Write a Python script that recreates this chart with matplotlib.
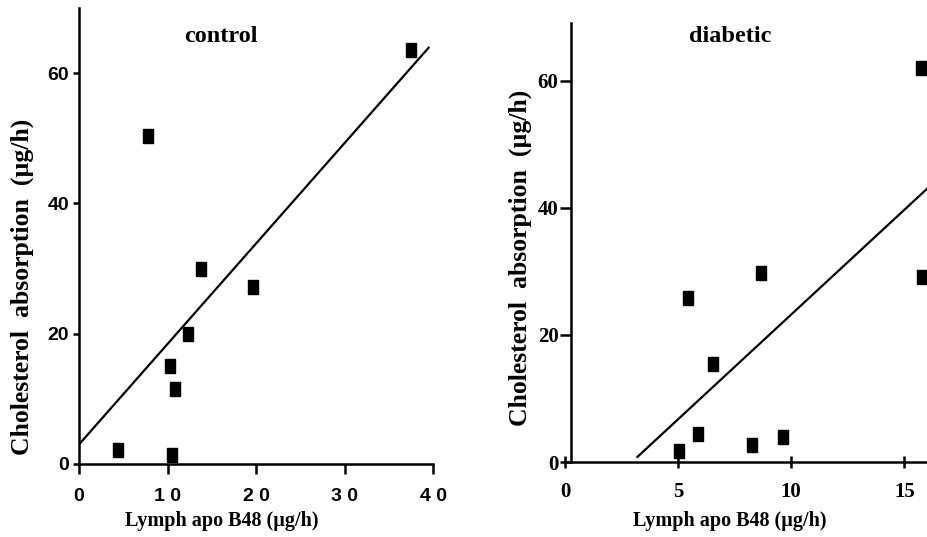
import matplotlib
matplotlib.use("Agg")
import matplotlib.pyplot as plt

# control group
ctrl_x = [4.45, 7.8, 10.3, 10.5, 10.9, 12.3, 13.8, 19.7, 37.5]
ctrl_y = [2.1, 50.3, 15.0, 1.4, 11.5, 19.9, 30.0, 27.1, 63.6]
ctrl_fit_x = [0, 39.5]
ctrl_fit_y = [3.0, 63.9]

# diabetic group
diab_x = [5.04, 5.44, 5.88, 6.55, 8.27, 8.67, 9.65, 15.75, 15.8]
diab_y = [1.7, 25.8, 4.4, 15.4, 2.7, 29.8, 3.9, 62.0, 29.1]
diab_fit_x = [3.2, 16.0]
diab_fit_y = [0.8, 43.0]

ctrl_xticks = [0, 10, 20, 30, 40]
ctrl_xlabels = ["0", "1 0", "2 0", "3 0", "4 0"]
diab_xticks = [0, 5, 10, 15]
yticks = [0, 20, 40, 60]

serif = "Liberation Serif"
sans = "Liberation Sans"

# tall rectangle marker
box = [(-0.37, -0.5), (0.37, -0.5), (0.37, 0.5), (-0.37, 0.5), (-0.37, -0.5)]

fig = plt.figure(figsize=(9.28, 5.37), dpi=100)

W, H = 928, 537


def place(x0, x1, ytop, ybot):
    return [x0 / W, 1 - ybot / H, (x1 - x0) / W, (ybot - ytop) / H]


ax1 = fig.add_axes(place(79, 433, 8, 464))
ax2 = fig.add_axes(place(565, 927, 23, 462))

for ax in (ax1, ax2):
    for s in ("top", "right"):
        ax.spines[s].set_visible(False)
    for s in ("left", "bottom"):
        ax.spines[s].set_linewidth(1.8)

# left panel
ax1.plot(ctrl_fit_x, ctrl_fit_y, color="black", lw=1.6)
ax1.plot(ctrl_x, ctrl_y, linestyle="none", marker=box, markersize=10,
         color="black", clip_on=False)
ax1.set_xlim(0, 40)
ax1.set_ylim(0, 70)
ax1.set_xticks(ctrl_xticks)
ax1.set_xticklabels(ctrl_xlabels)
ax1.set_yticks(yticks)
ax1.tick_params(axis="x", direction="out", length=7, width=1.8, pad=10)
ax1.tick_params(axis="y", direction="out", length=4, width=1.8, pad=3)
for lab in ax1.get_xticklabels() + ax1.get_yticklabels():
    lab.set_fontfamily(sans)
    lab.set_fontweight("bold")
    lab.set_fontsize(14)

# right panel
ax2.plot(diab_fit_x, diab_fit_y, color="black", lw=1.6)
ax2.plot(diab_x, diab_y, linestyle="none", marker=box, markersize=10,
         color="black", clip_on=False)
ax2.set_xlim(0, 16)
ax2.set_ylim(0, 69.1)
ax2.spines["left"].set_position(("data", 0.27))
ax2.set_xticks(diab_xticks)
ax2.set_yticks(yticks)
ax2.tick_params(axis="x", direction="inout", length=9, width=1.8, pad=10)
ax2.tick_params(axis="y", direction="out", length=8, width=1.8, pad=1)
for lab in ax2.get_xticklabels() + ax2.get_yticklabels():
    lab.set_fontfamily(serif)
    lab.set_fontweight("bold")
    lab.set_fontsize(15)

ylab = "Cholesterol  absorption  (\u00b5g/h)"
xlab = "Lymph apo B48 (\u00b5g/h)"
tk = dict(fontfamily=serif, fontweight="bold", ha="center", va="center")

fig.text(22 / W, 1 - 287 / H, ylab, rotation=90, fontsize=18.5, **tk)
fig.text(520 / W, 1 - 258 / H, ylab, rotation=90, fontsize=18.5, **tk)
fig.text(222 / W, 1 - 521 / H, xlab, fontsize=14.5, **tk)
fig.text(730 / W, 1 - 521 / H, xlab, fontsize=14.5, **tk)
fig.text(221 / W, 1 - 37 / H, "control", fontsize=17.5, **tk)
fig.text(730 / W, 1 - 37 / H, "diabetic", fontsize=17.5, **tk)

fig.savefig("out.png", dpi=100)
